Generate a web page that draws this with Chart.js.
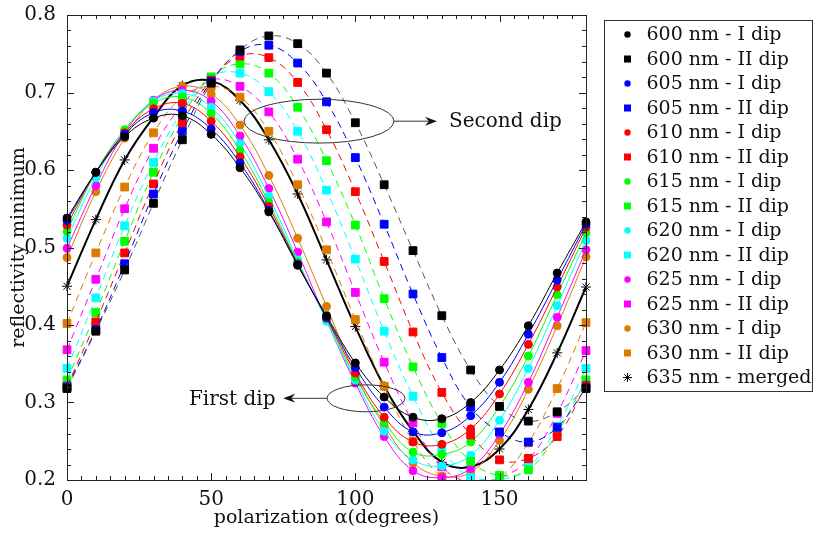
<!DOCTYPE html>
<html>
<head>
<meta charset="utf-8">
<script src="https://cdn.jsdelivr.net/npm/chart.js@4.4.1/dist/chart.umd.min.js"></script>
<style>
  html, body { margin: 0; padding: 0; background: #fff; }
  #wrap { width: 817px; height: 533px; }
</style>
</head>
<body>
<div id="wrap"><canvas id="chart" width="817" height="533"></canvas></div>
<script>
// polarization angle (degrees)
const angles = [0, 10, 20, 30, 40, 50, 60, 70, 80, 90, 100, 110, 120, 130, 140, 150, 160, 170, 180];

// first dip (circles, solid)
const dip1_600 = [0.538, 0.597, 0.643, 0.667, 0.670, 0.646, 0.603, 0.546, 0.477, 0.412, 0.351, 0.307, 0.281, 0.279, 0.300, 0.342, 0.399, 0.467, 0.533];
const dip1_605 = [0.535, 0.597, 0.646, 0.674, 0.676, 0.653, 0.609, 0.548, 0.478, 0.410, 0.345, 0.294, 0.262, 0.261, 0.283, 0.326, 0.388, 0.458, 0.530];
const dip1_610 = [0.529, 0.597, 0.648, 0.679, 0.686, 0.663, 0.617, 0.553, 0.479, 0.409, 0.338, 0.281, 0.249, 0.246, 0.266, 0.311, 0.375, 0.449, 0.526];
const dip1_615 = [0.521, 0.597, 0.652, 0.686, 0.694, 0.673, 0.625, 0.558, 0.481, 0.408, 0.333, 0.275, 0.236, 0.233, 0.249, 0.295, 0.360, 0.439, 0.519];
const dip1_620 = [0.512, 0.590, 0.651, 0.689, 0.699, 0.681, 0.634, 0.566, 0.484, 0.405, 0.329, 0.263, 0.226, 0.218, 0.232, 0.277, 0.344, 0.425, 0.509];
const dip1_625 = [0.499, 0.580, 0.648, 0.690, 0.703, 0.689, 0.644, 0.576, 0.494, 0.406, 0.325, 0.256, 0.212, 0.203, 0.215, 0.259, 0.326, 0.410, 0.497];
const dip1_630 = [0.487, 0.572, 0.641, 0.690, 0.708, 0.698, 0.658, 0.593, 0.512, 0.424, 0.337, 0.270, 0.222, 0.205, 0.210, 0.251, 0.317, 0.399, 0.488];

// second dip (squares, dashed)
const dip2_600 = [0.318, 0.392, 0.471, 0.557, 0.639, 0.712, 0.755, 0.773, 0.763, 0.725, 0.661, 0.581, 0.496, 0.412, 0.342, 0.295, 0.276, 0.288, 0.318];
const dip2_605 = [0.320, 0.394, 0.479, 0.569, 0.650, 0.714, 0.753, 0.761, 0.738, 0.688, 0.616, 0.530, 0.440, 0.358, 0.294, 0.262, 0.249, 0.268, 0.319];
const dip2_610 = [0.321, 0.404, 0.493, 0.582, 0.661, 0.716, 0.747, 0.745, 0.713, 0.652, 0.572, 0.482, 0.391, 0.313, 0.258, 0.226, 0.228, 0.256, 0.322];
const dip2_615 = [0.329, 0.416, 0.508, 0.597, 0.669, 0.720, 0.737, 0.725, 0.681, 0.612, 0.529, 0.434, 0.346, 0.273, 0.224, 0.206, 0.213, 0.261, 0.329];
const dip2_620 = [0.344, 0.435, 0.528, 0.610, 0.676, 0.720, 0.725, 0.701, 0.650, 0.574, 0.485, 0.392, 0.308, 0.241, 0.203, 0.200, 0.216, 0.269, 0.344];
const dip2_625 = [0.368, 0.459, 0.550, 0.628, 0.684, 0.716, 0.708, 0.675, 0.614, 0.533, 0.442, 0.352, 0.274, 0.217, 0.197, 0.203, 0.226, 0.286, 0.367];
const dip2_630 = [0.402, 0.493, 0.578, 0.648, 0.694, 0.708, 0.694, 0.650, 0.581, 0.497, 0.407, 0.321, 0.250, 0.204, 0.192, 0.203, 0.248, 0.318, 0.403];

// 635 nm, both dips merged
const merged_635 = [0.450, 0.536, 0.613, 0.668, 0.709, 0.715, 0.690, 0.639, 0.569, 0.484, 0.398, 0.321, 0.263, 0.223, 0.217, 0.240, 0.291, 0.364, 0.449];

const xTicks = [0, 50, 100, 150];
const yTicks = [0.2, 0.3, 0.4, 0.5, 0.6, 0.7, 0.8];

const colors = {
    600: '#000000', 605: '#0000ff', 610: '#ff0000', 615: '#00ff00',
    620: '#00ffff', 625: '#ff00ff', 630: '#dd7a00', 635: '#000000'
};

const series = [
    { label: '600 nm - I dip',  data: dip1_600, nm: 600, kind: 'I' },
    { label: '600 nm - II dip', data: dip2_600, nm: 600, kind: 'II' },
    { label: '605 nm - I dip',  data: dip1_605, nm: 605, kind: 'I' },
    { label: '605 nm - II dip', data: dip2_605, nm: 605, kind: 'II' },
    { label: '610 nm - I dip',  data: dip1_610, nm: 610, kind: 'I' },
    { label: '610 nm - II dip', data: dip2_610, nm: 610, kind: 'II' },
    { label: '615 nm - I dip',  data: dip1_615, nm: 615, kind: 'I' },
    { label: '615 nm - II dip', data: dip2_615, nm: 615, kind: 'II' },
    { label: '620 nm - I dip',  data: dip1_620, nm: 620, kind: 'I' },
    { label: '620 nm - II dip', data: dip2_620, nm: 620, kind: 'II' },
    { label: '625 nm - I dip',  data: dip1_625, nm: 625, kind: 'I' },
    { label: '625 nm - II dip', data: dip2_625, nm: 625, kind: 'II' },
    { label: '630 nm - I dip',  data: dip1_630, nm: 630, kind: 'I' },
    { label: '630 nm - II dip', data: dip2_630, nm: 630, kind: 'II' },
    { label: '635 nm - merged', data: merged_635, nm: 635, kind: 'M' }
];

const FONT = "'DejaVu Serif', 'Liberation Serif', serif";
Chart.defaults.font.family = FONT;
Chart.defaults.color = '#111';

const datasets = series.map(s => {
    const c = colors[s.nm];
    const d = {
        label: s.label,
        data: s.data.map((v, i) => ({ x: angles[i], y: v })),
        borderColor: c,
        backgroundColor: c,
        pointBorderColor: c,
        pointBackgroundColor: c,
        borderWidth: 1,
        tension: 0.4,
        clip: { left: 8, right: 8, top: 0, bottom: 0 }
    };
    if (s.kind === 'I') {
        d.pointStyle = 'circle';
        d.pointRadius = 4;
    } else if (s.kind === 'II') {
        d.pointStyle = 'rect';
        d.pointRadius = 5.5;
        d.borderDash = [7, 5];
        if (s.nm === 600) d.borderColor = '#555';
    } else {
        d.pointStyle = 'star';
        d.pointRadius = 5;
        d.pointBorderWidth = 1;
        d.borderWidth = 2;
    }
    return d;
});

// frame + inward ticks on all four sides
const framePlugin = {
    id: 'frame',
    afterDatasetsDraw(chart) {
        const { ctx, chartArea: a, scales: { x, y } } = chart;
        ctx.save();
        ctx.strokeStyle = '#222';
        ctx.lineWidth = 1;
        const seg = (x1, y1, x2, y2) => { ctx.beginPath(); ctx.moveTo(x1, y1); ctx.lineTo(x2, y2); ctx.stroke(); };
        for (let v = 0; v <= 180; v += 5) {
            const px = Math.round(x.getPixelForValue(v)) + 0.5;
            const len = v % 50 === 0 ? 7 : 4;
            seg(px, a.bottom, px, a.bottom - len);
            seg(px, a.top, px, a.top + len);
        }
        for (let k = 0; k <= 30; k++) {
            const v = 0.2 + k * 0.02;
            const py = Math.round(y.getPixelForValue(v)) + 0.5;
            const len = k % 5 === 0 ? 7 : 4;
            seg(a.left, py, a.left + len, py);
            seg(a.right, py, a.right - len, py);
        }
        ctx.strokeRect(Math.round(a.left) + 0.5, Math.round(a.top) + 0.5, Math.round(a.right - a.left), Math.round(a.bottom - a.top));
        ctx.restore();
    }
};

// ellipses with arrows
const notes = [
    { cx: 87.4, cy: 0.663, rx: 26, ry: 0.0283, tip: 128.3, side: 'right', text: 'Second dip', tx: 132.5 },
    { cx: 103.7, cy: 0.3054, rx: 13.5, ry: 0.0174, tip: 75.0, side: 'left', text: 'First dip', tx: 72.3 }
];

const notePlugin = {
    id: 'notes',
    afterDatasetsDraw(chart) {
        const { ctx, scales: { x, y } } = chart;
        ctx.save();
        ctx.strokeStyle = '#333';
        ctx.fillStyle = '#111';
        ctx.lineWidth = 1;
        notes.forEach(n => {
            const cx = x.getPixelForValue(n.cx), cy = y.getPixelForValue(n.cy);
            const rx = x.getPixelForValue(n.cx + n.rx) - cx;
            const ry = cy - y.getPixelForValue(n.cy + n.ry);
            ctx.beginPath();
            ctx.ellipse(cx, cy, rx, ry, 0, 0, Math.PI * 2);
            ctx.stroke();
            const start = n.side === 'right' ? cx + rx : cx - rx;
            const tip = x.getPixelForValue(n.tip);
            const dir = n.side === 'right' ? 1 : -1;
            ctx.beginPath();
            ctx.moveTo(start, cy);
            ctx.lineTo(tip - dir * 6, cy);
            ctx.stroke();
            ctx.beginPath();
            ctx.moveTo(tip, cy);
            ctx.lineTo(tip - dir * 12, cy - 4.5);
            ctx.lineTo(tip - dir * 8, cy);
            ctx.lineTo(tip - dir * 12, cy + 4.5);
            ctx.closePath();
            ctx.fill();
            ctx.font = '20px ' + FONT;
            ctx.textBaseline = 'middle';
            ctx.textAlign = n.side === 'right' ? 'left' : 'right';
            ctx.fillText(n.text, x.getPixelForValue(n.tx), cy + 1);
        });
        ctx.restore();
    }
};

// boxed legend to the right of the plot
const legendPlugin = {
    id: 'boxLegend',
    afterDraw(chart) {
        const { ctx } = chart;
        const left = 604.5, top = 20.5, w = 208, h = 371, step = 24.5;
        ctx.save();
        ctx.strokeStyle = '#333';
        ctx.lineWidth = 1;
        ctx.strokeRect(left, top, w, h);
        ctx.font = '19px ' + FONT;
        ctx.textBaseline = 'middle';
        ctx.textAlign = 'left';
        series.forEach((s, i) => {
            const cy = top + 14 + i * step;
            const mx = left + 23;
            const c = colors[s.nm];
            ctx.fillStyle = c;
            ctx.strokeStyle = c;
            if (s.kind === 'I') {
                ctx.beginPath(); ctx.arc(mx, cy, 3.2, 0, Math.PI * 2); ctx.fill();
            } else if (s.kind === 'II') {
                ctx.fillRect(mx - 3.5, cy - 3.5, 7, 7);
            } else {
                ctx.beginPath();
                for (let k = 0; k < 4; k++) {
                    const ang = k * Math.PI / 4;
                    ctx.moveTo(mx - 4.5 * Math.cos(ang), cy - 4.5 * Math.sin(ang));
                    ctx.lineTo(mx + 4.5 * Math.cos(ang), cy + 4.5 * Math.sin(ang));
                }
                ctx.stroke();
            }
            ctx.fillStyle = '#111';
            ctx.fillText(s.label, left + 42, cy + 1);
        });
        ctx.restore();
    }
};

const chart = new Chart(document.getElementById('chart'), {
    type: 'line',
    data: { datasets },
    options: {
        responsive: false,
        animation: false,
        devicePixelRatio: 1,
        layout: { padding: { top: 13, right: 231, left: 0, bottom: 0 } },
        plugins: { legend: { display: false }, tooltip: { enabled: false } },
        scales: {
            x: {
                type: 'linear',
                min: 0, max: 180,
                grid: { display: false },
                border: { display: false },
                afterBuildTicks: s => { s.ticks = xTicks.map(v => ({ value: v })); },
                afterFit: s => { s.height = 53; },
                ticks: { font: { size: 20 }, padding: 0, color: '#111', maxRotation: 0 },
                title: { display: true, text: 'polarization α(degrees)', font: { size: 19 }, color: '#111', padding: { top: 0, bottom: 4 } }
            },
            y: {
                type: 'linear',
                min: 0.2, max: 0.8,
                grid: { display: false },
                border: { display: false },
                afterBuildTicks: s => { s.ticks = yTicks.map(v => ({ value: v })); },
                afterFit: s => { s.width = 67; },
                ticks: { font: { size: 20 }, padding: 3, color: '#111', callback: v => v.toFixed(1) },
                title: { display: true, text: 'reflectivity minimum', font: { size: 19 }, color: '#111', padding: { top: 8, bottom: 0 } }
            }
        }
    },
    plugins: [framePlugin, notePlugin, legendPlugin]
});

// nudge the padding so the plot box lands where the reference has it
const want = { left: 67, top: 13, right: 586, bottom: 480 };
const a = chart.chartArea;
const p = chart.options.layout.padding;
p.top += want.top - a.top;
p.bottom += a.bottom - want.bottom;
p.left += want.left - a.left;
p.right += a.right - want.right;
chart.update();
</script>
</body>
</html>
